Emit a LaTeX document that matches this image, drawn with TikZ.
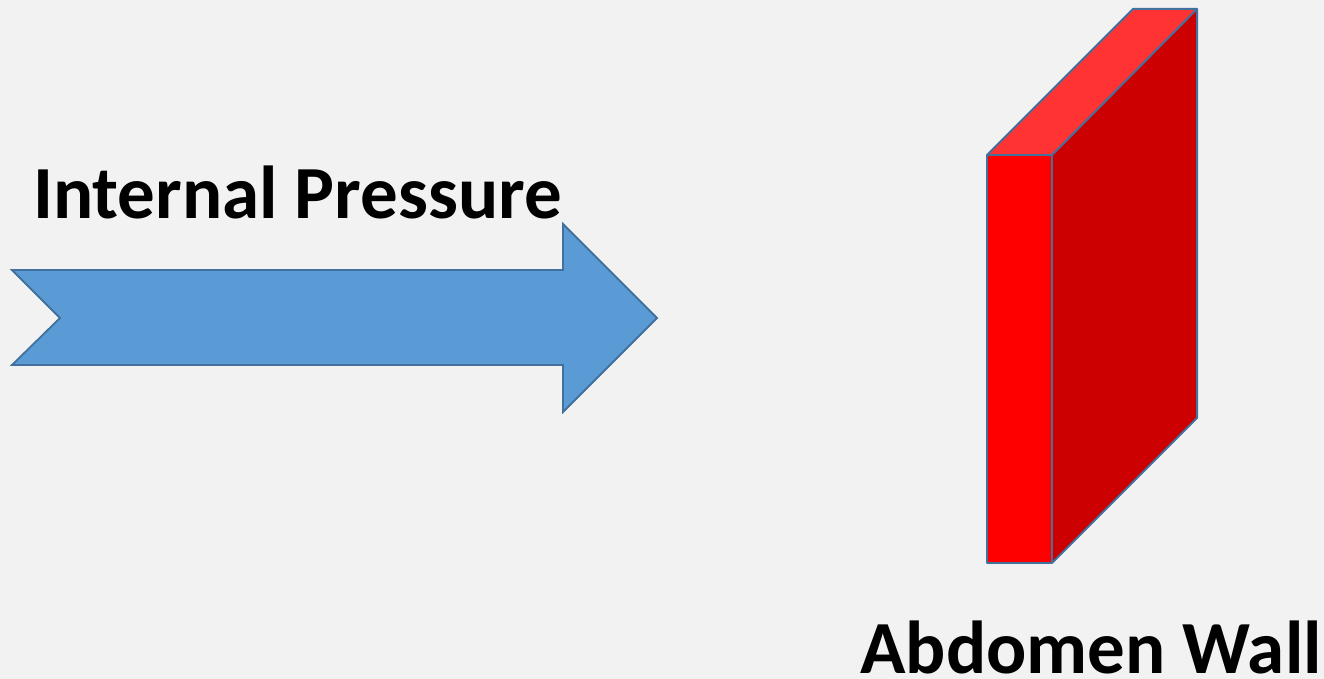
\documentclass[tikz,border=0pt]{standalone}
\usepackage{fontspec}
\setmainfont{Carlito}
\definecolor{bg}{HTML}{F2F2F2}
\definecolor{arrowfill}{HTML}{5B9BD5}
\definecolor{edgeblue}{HTML}{41719C}
\definecolor{frontred}{HTML}{FF0000}
\definecolor{topred}{HTML}{FF3333}
\definecolor{sidered}{HTML}{CC0000}
\tikzset{
  face/.style={draw=edgeblue, line width=2pt, line join=round},
  bigarrow/.style={draw=edgeblue, fill=arrowfill, line width=1.8pt, line join=miter},
  lbl/.style={inner sep=0pt, font=\bfseries\fontsize{75}{90}\selectfont}
}
\begin{document}
\begin{tikzpicture}[x=1pt,y=-1pt]
\fill[bg] (0,0) rectangle (1324,679);
\useasboundingbox (0,0) rectangle (1324,679);
% arrow
\coordinate (t1) at (12,270);
\coordinate (n) at (60,318);
\coordinate (t2) at (12,365);
\coordinate (s2) at (563,365);
\coordinate (h2) at (563,412);
\coordinate (tip) at (657,318);
\coordinate (h1) at (563,224);
\coordinate (s1) at (563,270);
\draw[bigarrow] (t1) -- (n) -- (t2) -- (s2) -- (h2) -- (tip) -- (h1) -- (s1) -- cycle;
% wall
\coordinate (fa) at (987,155);
\coordinate (fb) at (1052,155);
\coordinate (fc) at (1052,563);
\coordinate (fd) at (987,563);
\coordinate (ba) at (1133,9);
\coordinate (bb) at (1197,9);
\coordinate (bc) at (1197,418);
\fill[frontred] (fa) -- (fb) -- (fc) -- (fd) -- cycle;
\fill[topred] (fa) -- (ba) -- (bb) -- (fb) -- cycle;
\fill[sidered] (fb) -- (bb) -- (bc) -- (fc) -- cycle;
\draw[face] (fa) -- (fb) -- (fc) -- (fd) -- cycle;
\draw[face] (fa) -- (ba) -- (bb) -- (fb);
\draw[face] (bb) -- (bc) -- (fc);
% labels
\node[lbl, anchor=base west] (ip) at (33,218) {Internal Pressure};
\node[lbl, anchor=base east] (aw) at (1322,673) {Abdomen Wall};
\end{tikzpicture}
\end{document}
